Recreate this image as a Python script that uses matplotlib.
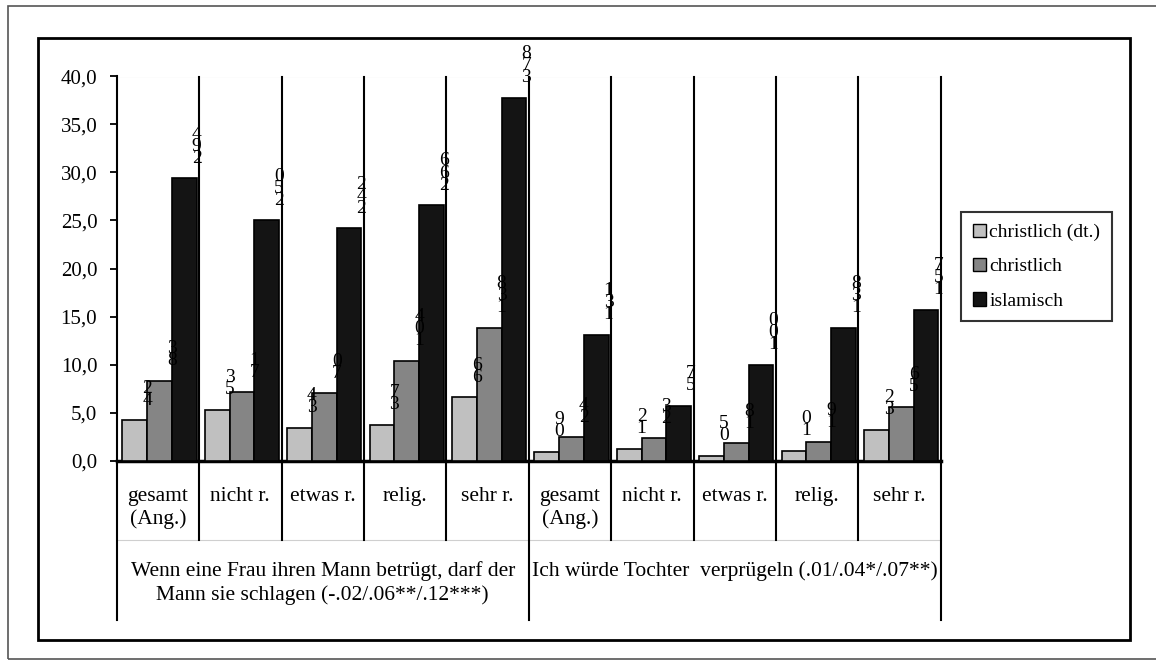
import numpy as np
import matplotlib
matplotlib.use('Agg')
from matplotlib import pyplot as plt
from matplotlib.patches import Rectangle, Patch
from matplotlib.ticker import FuncFormatter
import matplotlib.transforms as mtransforms

plt.rcParams['font.family'] = ['Liberation Serif', 'DejaVu Serif']

# data
categories = ['gesamt\n(Ang.)', 'nicht r.', 'etwas r.', 'relig.', 'sehr r.',
              'gesamt\n(Ang.)', 'nicht r.', 'etwas r.', 'relig.', 'sehr r.']
christlich_dt = [4.2, 5.3, 3.4, 3.7, 6.6, 0.9, 1.2, 0.5, 1.0, 3.2]
christlich = [8.3, 7.1, 7.0, 10.4, 13.8, 2.4, 2.3, 1.8, 1.9, 5.6]
islamisch = [29.4, 25.0, 24.2, 26.6, 37.8, 13.1, 5.7, 10.0, 13.8, 15.7]
series_names = ['christlich (dt.)', 'christlich', 'islamisch']
colors = ['#c0c0c0', '#858585', '#141414']
items = ['Wenn eine Frau ihren Mann betrügt, darf der\nMann sie schlagen (-.02/.06**/.12***)',
         'Ich würde Tochter  verprügeln (.01/.04*/.07**)']

W, H = 1156, 663
fig = plt.figure(figsize=(W / 100, H / 100), dpi=100)
fig.patch.set_facecolor('white')

def px(x0, y0, x1, y1):
    # pixel box -> figure fraction rect
    return (x0 / W, 1 - y1 / H, (x1 - x0) / W, (y1 - y0) / H)

# frames around the chart
r = px(8, 6, 1170, 659)
fig.add_artist(Rectangle(r[:2], r[2], r[3], transform=fig.transFigure,
                         fill=False, ec='#555555', lw=1.2))
r = px(38, 38, 1130, 640)
fig.add_artist(Rectangle(r[:2], r[2], r[3], transform=fig.transFigure,
                         fill=False, ec='black', lw=2))

ax = fig.add_axes(px(116.7, 76.5, 940.7, 460.5))
ax.set_xlim(0, 10)
ax.set_ylim(0, 40)

x = np.arange(len(categories)) + 0.52
bw = 0.3
series = [christlich_dt, christlich, islamisch]
for k, (vals, col) in enumerate(zip(series, colors)):
    pos = x + (k - 1) * bw
    ax.bar(pos, vals, width=bw, color=col, edgecolor='black', lw=1.2, zorder=3)
    for p, v in zip(pos, vals):
        digits = f'{v:.1f}'.replace('.', '')[::-1]
        ax.text(p + bw / 2, v + 1.2, '\n'.join(digits), ha='center', va='bottom',
                fontsize=14, linespacing=0.62, color='black', zorder=4)

# top gridline
ax.axhline(40, color='#d0d0d0', lw=0.8, zorder=1)

for s in ['top', 'right']:
    ax.spines[s].set_visible(False)
ax.spines['left'].set_linewidth(1.5)
ax.spines['bottom'].set_linewidth(2.5)
ax.set_yticks(np.arange(0, 41, 5))
ax.yaxis.set_major_formatter(FuncFormatter(lambda v, p: f'{v:.1f}'.replace('.', ',')))
ax.tick_params(axis='y', direction='out', length=5, width=1.3, pad=9, labelsize=15)
ax.set_xticks([])

# group dividers and category table
trans = mtransforms.blended_transform_factory(ax.transData, ax.transAxes)
for i in range(11):
    bottom = -0.415 if i in (0, 5, 10) else -0.207
    top = 1.0 if i > 0 else 0.0
    ax.plot([i, i], [bottom, top], color='black', lw=1.5, transform=trans,
            clip_on=False, zorder=5)
ax.plot([0, 10], [-0.207, -0.207], color='#cfcfcf', lw=0.8, transform=trans, clip_on=False)

for xi, lab in zip(np.arange(len(categories)) + 0.5, categories):
    ax.text(xi, -0.068, lab, transform=trans, ha='center', va='top', fontsize=15.5,
            linespacing=1.25)

for j, txt in enumerate(items):
    ax.text(2.5 + 5 * j, -0.262, txt, transform=trans, ha='center', va='top',
            fontsize=15.5, linespacing=1.3)

# legend
handles = [Patch(facecolor=c, edgecolor='black', lw=1) for c in colors]
leg = fig.legend(handles, series_names, loc='upper left',
                 bbox_to_anchor=(961 / W, 1 - 212 / H), fontsize=14,
                 frameon=True, fancybox=False, edgecolor='black',
                 handlelength=0.7, handleheight=0.7, handletextpad=0.15,
                 labelspacing=0.85, borderpad=0.6, borderaxespad=0)
leg.get_frame().set_linewidth(1.5)

fig.savefig('out.png', dpi=100)
